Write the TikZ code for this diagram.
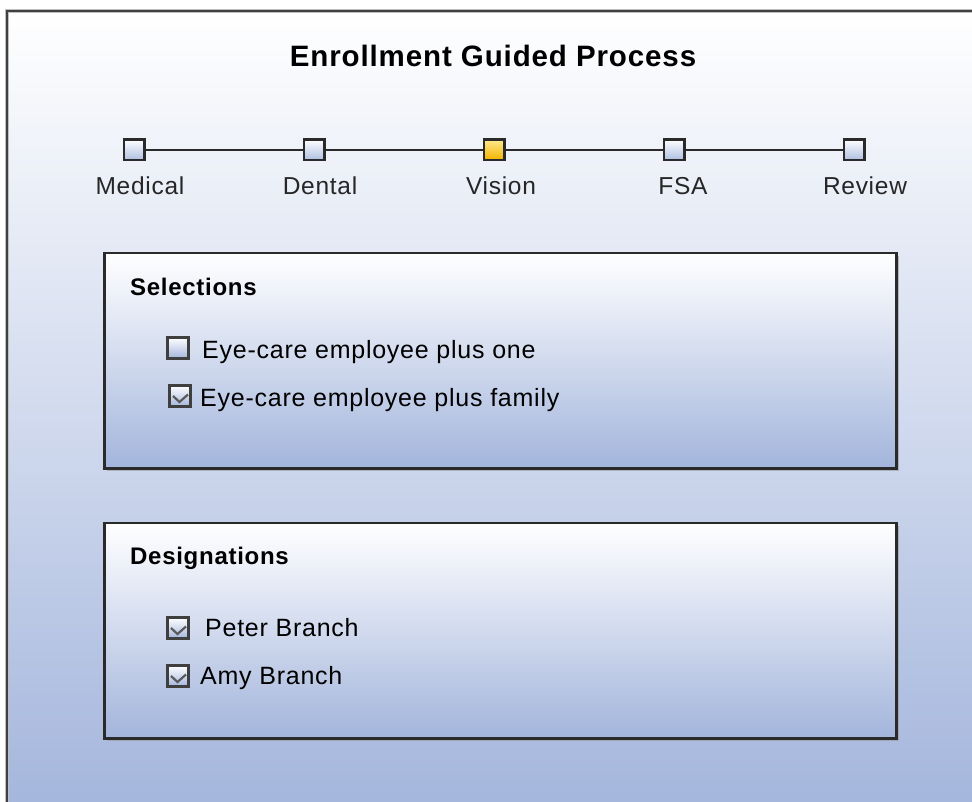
\documentclass[tikz,border=0pt]{standalone}
\usepackage{fontspec}
\setmainfont{Liberation Sans}
\newfontfamily\spacedfont[LetterSpace=3]{Liberation Sans}
\usetikzlibrary{shadows,calc}
\definecolor{bgtop}{HTML}{FFFFFF}
\definecolor{bgbot}{HTML}{A2B4DC}
\definecolor{panbot}{HTML}{A3B5DC}
\definecolor{edge}{HTML}{2A2A2A}
\definecolor{stepbot}{HTML}{AFC0E2}
\definecolor{curtop}{HTML}{FFEA90}
\definecolor{curbot}{HTML}{F2B300}
\definecolor{checkc}{HTML}{5A5A5A}
\tikzset{
  stepbox/.style={draw=edge, line width=2.5pt, minimum size=20.5pt, inner sep=0pt,
    top color=white, bottom color=stepbot},
  curbox/.style={stepbox, top color=curtop, bottom color=curbot},
  link/.style={draw=edge, line width=2pt},
  panel/.style={draw=edge, line width=2.5pt, inner sep=0pt, anchor=north west,
    minimum width=792pt, minimum height=215.5pt,
    top color=white, bottom color=panbot,
    drop shadow={shadow xshift=3pt, shadow yshift=-3pt, fill=black!40, opacity=.6}},
  cbox/.style={draw=edge!90, line width=2.5pt, minimum size=21pt, inner sep=0pt,
    top color=white, bottom color=panbot},
  tick/.style={draw=checkc, line width=2.2pt},
  txt/.style={inner sep=0pt, anchor=base west, font=\spacedfont\fontsize{25}{29}\selectfont},
  head/.style={inner sep=0pt, anchor=base west, font=\spacedfont\bfseries\fontsize{24}{28}\selectfont},
  steplbl/.style={inner sep=0pt, anchor=base, font=\spacedfont\fontsize{24.5}{28}\selectfont, text=black!85},
  ttl/.style={inner sep=0pt, anchor=base, font=\spacedfont\bfseries\fontsize{29.5}{34}\selectfont}
}
\begin{document}
\begin{tikzpicture}[x=1pt,y=-1pt]
\useasboundingbox (0,0) rectangle (972,801);
\fill[white] (0,0) rectangle (972,801);
\begin{scope}
  \clip (0,0) rectangle (972,801);
  \shade[top color=bgtop, bottom color=bgbot] (7,11) rectangle (1000,830);
  \draw[black!25, line width=4pt] (7,830) -- (7,11) -- (1000,11);
  \draw[black!75, line width=2pt] (7,830) -- (7,11) -- (1000,11);
\end{scope}

\node[ttl] (title) at (493,66.7) {Enrollment Guided Process};

% steps
\node[stepbox] (s1) at (134,149.5) {};
\node[stepbox] (s2) at (314,149.5) {};
\node[curbox]  (s3) at (494,149.5) {};
\node[stepbox] (s4) at (674,149.5) {};
\node[stepbox] (s5) at (854,149.5) {};
\draw[link] (s1) -- (s2);
\draw[link] (s2) -- (s3);
\draw[link] (s3) -- (s4);
\draw[link] (s4) -- (s5);
\node[steplbl] (l1) at (140,194) {Medical};
\node[steplbl] (l2) at (320,194) {Dental};
\node[steplbl] (l3) at (501,194) {Vision};
\node[steplbl] (l4) at (683,194) {FSA};
\node[steplbl] (l5) at (865,194) {Review};

% selections panel
\node[panel] (sel) at (103,251.5) {};
\node[head] (selh) at (130,295) {Selections};
\node[cbox] (c1) at (178,348) {};
\node[txt] (t1) at (202,358) {Eye-care employee plus one};
\node[cbox] (c2) at (180,396) {};
\draw[tick] ($(c2.center)+(-7,0)$) -- ($(c2.center)+(-0.5,6)$) -- ($(c2.center)+(8,-1.5)$);
\node[txt] (t2) at (200,406.5) {Eye-care employee plus family};

% designations panel
\node[panel] (des) at (103,521.5) {};
\node[head] (desh) at (130,564) {Designations};
\node[cbox] (c3) at (178,628) {};
\draw[tick] ($(c3.center)+(-7,0)$) -- ($(c3.center)+(-0.5,6)$) -- ($(c3.center)+(8,-1.5)$);
\node[txt] (t3) at (205,636.5) {Peter Branch};
\node[cbox] (c4) at (178,676) {};
\draw[tick] ($(c4.center)+(-7,0)$) -- ($(c4.center)+(-0.5,6)$) -- ($(c4.center)+(8,-1.5)$);
\node[txt] (t4) at (200,684.5) {Amy Branch};
\end{tikzpicture}
\end{document}
